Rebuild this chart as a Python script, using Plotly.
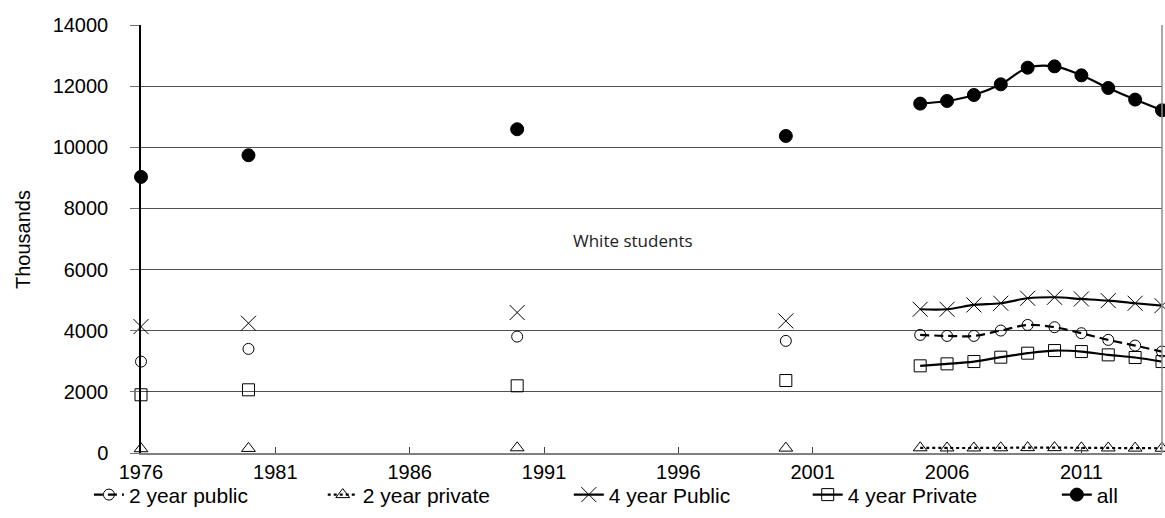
import plotly.graph_objects as go

# ---- data (thousands of White students) ----
years = [1976, 1980, 1990, 2000, 2005, 2006, 2007, 2008, 2009, 2010, 2011, 2012, 2013, 2014]
two_year_public = [2990, 3405, 3808, 3667, 3863, 3830, 3830, 4005, 4190, 4114, 3918, 3700, 3514, 3318]
two_year_private = [140, 150, 170, 160, 170, 165, 165, 170, 175, 175, 170, 165, 160, 155]
four_year_public = [4134, 4245, 4595, 4320, 4702, 4702, 4843, 4898, 5061, 5094, 5039, 4984, 4898, 4820]
four_year_private = [1904, 2067, 2198, 2371, 2851, 2916, 2991, 3134, 3265, 3351, 3318, 3210, 3123, 2991]
all_students = [9032, 9740, 10590, 10370, 11429, 11515, 11710, 12060, 12604, 12647, 12353, 11940, 11560, 11210]

series_names = ["2 year public", "2 year private", "4 year Public", "4 year Private", "all"]
y_ticks = [0, 2000, 4000, 6000, 8000, 10000, 12000, 14000]
x_ticks = [1976, 1981, 1986, 1991, 1996, 2001, 2006, 2011]


def with_gaps(xs, ys):
    """Insert None between non-consecutive years so only annual runs are joined."""
    gx, gy = [], []
    for i, (x, y) in enumerate(zip(xs, ys)):
        if i > 0 and x - xs[i - 1] > 1:
            gx.append(None)
            gy.append(None)
        gx.append(x)
        gy.append(y)
    return gx, gy


styles = [
    dict(dash="9px,5px", symbol="circle-open", size=11),
    dict(dash="dot", symbol="triangle-up-open", size=12),
    dict(dash="solid", symbol="x-thin-open", size=15),
    dict(dash="solid", symbol="square-open", size=12),
    dict(dash="solid", symbol="circle", size=13),
]
data = [two_year_public, two_year_private, four_year_public, four_year_private, all_students]
legend_ids = ["legend", "legend2", "legend3", "legend4", "legend5"]
legend_x = [-0.051, 0.178, 0.419, 0.653, 0.897]

fig = go.Figure()
for name, vals, st, lid in zip(series_names, data, styles, legend_ids):
    gx, gy = with_gaps(years, vals)
    fig.add_trace(go.Scatter(
        x=gx, y=gy, name=name, mode="lines+markers", legend=lid,
        connectgaps=False,
        line=dict(color="black", width=2.2, dash=st["dash"], shape="spline", smoothing=1),
        marker=dict(symbol=st["symbol"], size=st["size"], color="black",
                    line=dict(color="black", width=1)),
        cliponaxis=False,
    ))

fig.add_annotation(x=1994.3, y=6950, text="White students", showarrow=False,
                   xanchor="center",
                   font=dict(family="Open Sans", size=17, color="#222"))

fig.add_annotation(xref="paper", yref="paper", x=-0.1156, y=0.5, text="Thousands",
                   textangle=-90, showarrow=False, xanchor="center", yanchor="middle",
                   font=dict(family="Liberation Sans", size=20, color="black"))

fig.add_shape(type="line", xref="paper", yref="paper", x0=1, x1=1, y0=0, y1=1,
              line=dict(color="#8c8c8c", width=1.5))

legend_common = dict(orientation="h", xanchor="left", y=-0.098, yanchor="middle",
                     font=dict(size=21), itemwidth=30, bgcolor="rgba(0,0,0,0)")
layout_legends = {lid: dict(x=lx, **legend_common) for lid, lx in zip(legend_ids, legend_x)}

fig.update_layout(
    width=1165, height=518,
    margin=dict(l=141, r=3, t=25, b=65),
    plot_bgcolor="white", paper_bgcolor="white",
    font=dict(family="Liberation Sans", size=20, color="black"),
    showlegend=True,
    **layout_legends,
)
fig.update_xaxes(range=[1976, 2014], tickvals=x_ticks, ticktext=[str(t) for t in x_ticks],
                 showgrid=False, zeroline=False,
                 showline=True, linecolor="#808080", linewidth=2,
                 ticks="inside", ticklen=6, tickcolor="#404040", tickwidth=1)
fig.update_yaxes(range=[0, 14000], tickvals=y_ticks, ticktext=[str(t) for t in y_ticks],
                 showgrid=True, gridcolor="#505050", gridwidth=1, zeroline=False,
                 showline=True, linecolor="black", linewidth=1.5,
                 ticks="outside", ticklen=9, tickcolor="#707070", ticklabelstandoff=18)

fig.write_html("out.html", config={"displayModeBar": False},
               post_script="document.body.style.margin='0';document.body.style.overflow='hidden';")
